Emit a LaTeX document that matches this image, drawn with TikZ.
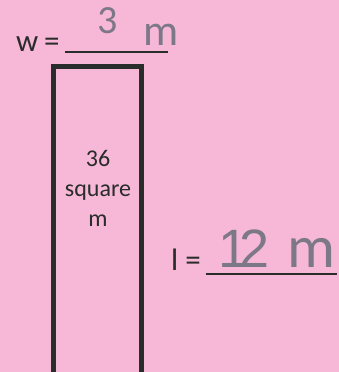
\documentclass[tikz,border=0pt]{standalone}
\usepackage{fontspec}
\setmainfont{Carlito}
\newfontfamily\handdigits{Liberation Sans}
\definecolor{bgpink}{RGB}{247,183,215}
\definecolor{ink}{RGB}{40,44,42}
\definecolor{pencil}{RGB}{125,120,135}
\begin{document}
\begin{tikzpicture}[x=1pt,y=-1pt,
  lbl/.style={inner sep=0pt, text=ink, font=\fontsize{31}{34}\selectfont},
  hand/.style={inner sep=0pt, text=pencil},
  blank/.style={draw=ink, line width=1.5pt}]
\fill[bgpink] (0,0) rectangle (339,372);
\useasboundingbox (0,0) rectangle (339,372);
% rectangle (runs off the bottom)
\begin{scope}
\clip (0,0) rectangle (339,372);
\draw[ink, line width=5pt] (53,66) rectangle (141,374);
\end{scope}
% area text
\node[lbl, align=center, font=\fontsize{24}{30}\selectfont] (area) at (98,188) {36\\square\\m};
% width label
\node[lbl, anchor=base west] (w) at (16,51) {w};
\node[lbl, anchor=base west] (weq) at (44,51) {=};
\coordinate (w1) at (65,52);
\coordinate (w2) at (168,52);
\draw[blank] (w1) -- (w2);
\node[hand, anchor=base west, font=\fontsize{40}{40}\selectfont] (w3) at (97,33) {3};
\node[hand, anchor=base west, font=\fontsize{44}{44}\selectfont] (wm) at (143,45) {m};
% length label
\node[lbl, anchor=base west] (l) at (171,270) {l =};
\coordinate (l1) at (206,274);
\coordinate (l2) at (337,274);
\draw[blank] (l1) -- (l2);
\node[hand, anchor=base west, font=\handdigits\fontsize{54}{56}\selectfont] (l1g) at (218,267) {1};
\node[hand, anchor=base west, font=\handdigits\fontsize{54}{56}\selectfont] (l2g) at (239,267) {2};
\node[hand, anchor=base west, font=\fontsize{60}{62}\selectfont] (lm) at (287,267) {m};
\end{tikzpicture}
\end{document}
